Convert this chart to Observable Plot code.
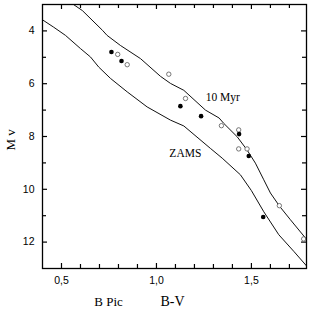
<!DOCTYPE html>
<html>
<head>
<meta charset="utf-8">
<script src="https://cdn.jsdelivr.net/npm/d3@7"></script>
<script src="https://cdn.jsdelivr.net/npm/@observablehq/plot@0.6"></script>
<style>
  html, body { margin: 0; padding: 0; background: #fff; }
</style>
</head>
<body>
<div id="chart"></div>
<script>
// 10 Myr isochrone (B-V, Mv)
const myrBV = [0.563, 0.61, 0.716, 0.74, 0.81, 0.916, 1.021, 1.074, 1.144, 1.258, 1.33, 1.354, 1.425, 1.477, 1.521, 1.565, 1.60, 1.649, 1.705, 1.784, 1.79];
const myrMv = [3.00, 3.23, 3.98, 4.17, 4.55, 5.05, 5.72, 5.99, 6.25, 7.00, 7.30, 7.50, 8.01, 8.51, 9.01, 9.64, 10.14, 10.65, 11.15, 11.84, 11.90];
// ZAMS
const zamsBV = [0.40, 0.459, 0.521, 0.60, 0.653, 0.696, 0.758, 0.846, 0.951, 1.074, 1.144, 1.284, 1.346, 1.442, 1.50, 1.565, 1.644, 1.723, 1.79];
const zamsMv = [3.58, 3.86, 4.17, 4.67, 4.99, 5.37, 5.80, 6.31, 6.88, 7.38, 7.60, 8.45, 8.82, 9.45, 10.05, 10.85, 11.72, 12.35, 12.90];
// stars: filled
const filledBV = [0.763, 0.816, 1.126, 1.235, 1.435, 1.486, 1.562];
const filledMv = [4.80, 5.14, 6.85, 7.23, 7.91, 8.74, 11.05];
// stars: open
const openBV = [0.796, 0.846, 1.065, 1.153, 1.342, 1.433, 1.433, 1.477, 1.647, 1.775];
const openMv = [4.89, 5.28, 5.64, 6.56, 7.59, 7.75, 8.47, 8.47, 10.62, 11.88];
// ticks
const xMajor = [0.5, 1.0, 1.5];
const xMinor = [0.6, 0.7, 0.8, 0.9, 1.1, 1.2, 1.3, 1.4, 1.6, 1.7];
const yMajor = [4, 6, 8, 10, 12];
const yMinor = [5, 7, 9, 11];

const zip = (xs, ys) => xs.map((x, i) => ({x, y: ys[i]}));
const myr = zip(myrBV, myrMv);
const zams = zip(zamsBV, zamsMv);
const filled = zip(filledBV, filledMv);
const open = zip(openBV, openMv);

const W = 311, H = 310, mL = 42, mR = 5, mT = 4, mB = 42;
const fw = W - mL - mR, fh = H - mT - mB;
const serif = "'Liberation Serif', 'Times New Roman', serif";
const sans = "'Liberation Sans', Arial, sans-serif";

const plot = Plot.plot({
  width: W, height: H,
  marginLeft: mL, marginRight: mR, marginTop: mT, marginBottom: mB,
  style: {fontFamily: sans, fontSize: "10.5px", color: "#000", background: "#fff"},
  x: {domain: [0.4, 1.79]},
  y: {domain: [3, 13], reverse: true},
  marks: [
    Plot.axisX({ticks: xMajor, tickSize: 0, tickPadding: 8, tickFormat: d => d.toFixed(1).replace(".", ","), label: null, fontSize: 10.5, fill: "#000"}),
    Plot.axisY({ticks: yMajor, tickSize: 0, tickPadding: 8, label: null, fontSize: 10.5, fill: "#000"}),
    // inward ticks: bottom & top
    Plot.ruleX(xMajor, {x: d => d, insetTop: fh - 5, strokeWidth: 1.2}),
    Plot.ruleX(xMinor, {x: d => d, insetTop: fh - 4, strokeWidth: 1.2}),
    Plot.ruleX(xMajor, {x: d => d, insetBottom: fh - 5, strokeWidth: 1.2}),
    Plot.ruleX(xMinor, {x: d => d, insetBottom: fh - 4, strokeWidth: 1.2}),
    // inward ticks: left & right
    Plot.ruleY(yMajor, {y: d => d, insetRight: fw - 5, strokeWidth: 1.2}),
    Plot.ruleY(yMinor, {y: d => d, insetRight: fw - 4, strokeWidth: 1.2}),
    Plot.ruleY(yMajor, {y: d => d, insetLeft: fw - 5, strokeWidth: 1.2}),
    Plot.ruleY(yMinor, {y: d => d, insetLeft: fw - 4, strokeWidth: 1.2}),
    Plot.line(myr, {x: "x", y: "y", stroke: "#111", strokeWidth: 1, clip: true}),
    Plot.line(zams, {x: "x", y: "y", stroke: "#111", strokeWidth: 1, clip: true}),
    Plot.dot(open, {x: "x", y: "y", r: 2.2, fill: "#fff", stroke: "#555", strokeWidth: 0.8}),
    Plot.dot(filled, {x: "x", y: "y", r: 2.3, fill: "#000", stroke: "none"}),
    Plot.text(["10 Myr"], {x: 1.259, y: 6.52, text: d => d, textAnchor: "start", lineAnchor: "middle", fontFamily: serif, fontSize: 11.5, fill: "#000"}),
    Plot.text(["ZAMS"], {x: 1.068, y: 8.64, text: d => d, textAnchor: "start", lineAnchor: "middle", fontFamily: serif, fontSize: 11.5, fill: "#000"}),
    Plot.text(["M v"], {frameAnchor: "left", dx: -32, dy: 14, rotate: -90, text: d => d, lineAnchor: "middle", fontFamily: serif, fontSize: 13, fill: "#000"}),
    Plot.text(["B Pic"], {frameAnchor: "bottom", dx: -66, dy: 33, text: d => d, lineAnchor: "middle", fontFamily: serif, fontSize: 13, fill: "#000"}),
    Plot.text(["B-V"], {frameAnchor: "bottom", dx: -2, dy: 33, text: d => d, lineAnchor: "middle", fontFamily: serif, fontSize: 14, fill: "#000"}),
    Plot.frame({stroke: "#000", strokeWidth: 1.3})
  ]
});
document.getElementById("chart").appendChild(plot);
</script>
</body>
</html>
